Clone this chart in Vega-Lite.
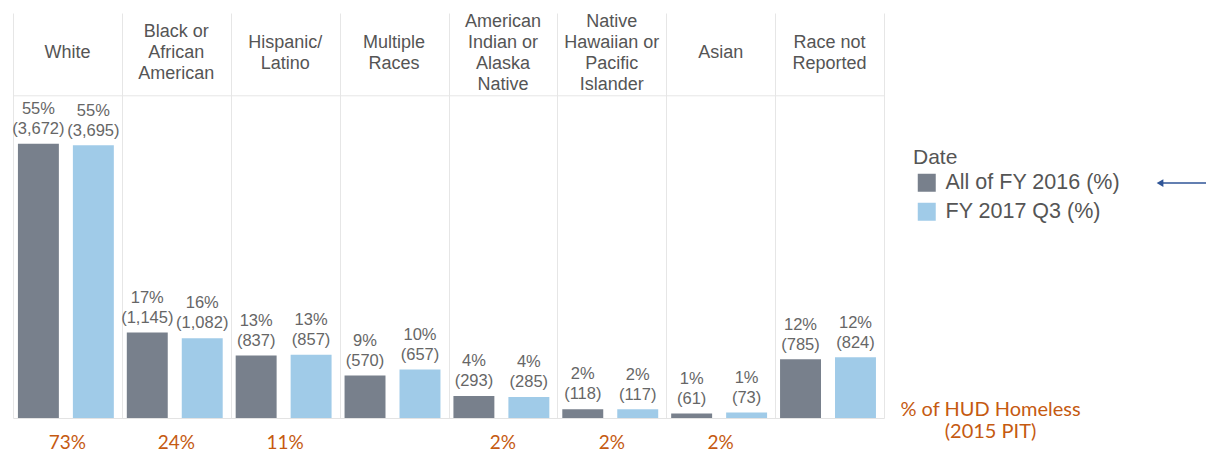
{
  "$schema": "https://vega.github.io/schema/vega-lite/v6.json",
  "width": 871,
  "height": 405,
  "padding": {"left": 12, "top": 12, "right": 0, "bottom": 0},
  "background": "white",
  "config": {
    "view": {"stroke": null},
    "font": "Liberation Sans"
  },
  "datasets": {
    "bars": [
      {"race": "White", "date": "All of FY 2016 (%)", "pct": 55.00, "count": 3672},
      {"race": "White", "date": "FY 2017 Q3 (%)", "pct": 54.66, "count": 3695},
      {"race": "Black or African American", "date": "All of FY 2016 (%)", "pct": 17.15, "count": 1145},
      {"race": "Black or African American", "date": "FY 2017 Q3 (%)", "pct": 16.01, "count": 1082},
      {"race": "Hispanic/ Latino", "date": "All of FY 2016 (%)", "pct": 12.54, "count": 837},
      {"race": "Hispanic/ Latino", "date": "FY 2017 Q3 (%)", "pct": 12.68, "count": 857},
      {"race": "Multiple Races", "date": "All of FY 2016 (%)", "pct": 8.54, "count": 570},
      {"race": "Multiple Races", "date": "FY 2017 Q3 (%)", "pct": 9.72, "count": 657},
      {"race": "American Indian or Alaska Native", "date": "All of FY 2016 (%)", "pct": 4.39, "count": 293},
      {"race": "American Indian or Alaska Native", "date": "FY 2017 Q3 (%)", "pct": 4.22, "count": 285},
      {"race": "Native Hawaiian or Pacific Islander", "date": "All of FY 2016 (%)", "pct": 1.77, "count": 118},
      {"race": "Native Hawaiian or Pacific Islander", "date": "FY 2017 Q3 (%)", "pct": 1.73, "count": 117},
      {"race": "Asian", "date": "All of FY 2016 (%)", "pct": 0.91, "count": 61},
      {"race": "Asian", "date": "FY 2017 Q3 (%)", "pct": 1.08, "count": 73},
      {"race": "Race not Reported", "date": "All of FY 2016 (%)", "pct": 11.76, "count": 785},
      {"race": "Race not Reported", "date": "FY 2017 Q3 (%)", "pct": 12.19, "count": 824}
    ],
    "headers": [
      {"race": "White", "label": "White"},
      {"race": "Black or African American", "label": "Black or\nAfrican\nAmerican"},
      {"race": "Hispanic/ Latino", "label": "Hispanic/\nLatino"},
      {"race": "Multiple Races", "label": "Multiple\nRaces"},
      {"race": "American Indian or Alaska Native", "label": "American\nIndian or\nAlaska\nNative"},
      {"race": "Native Hawaiian or Pacific Islander", "label": "Native\nHawaiian or\nPacific\nIslander"},
      {"race": "Asian", "label": "Asian"},
      {"race": "Race not Reported", "label": "Race not\nReported"}
    ],
    "hud": [
      {"race": "White", "hud": "73%"},
      {"race": "Black or African American", "hud": "24%"},
      {"race": "Hispanic/ Latino", "hud": "11%"},
      {"race": "American Indian or Alaska Native", "hud": "2%"},
      {"race": "Native Hawaiian or Pacific Islander", "hud": "2%"},
      {"race": "Asian", "hud": "2%"}
    ],
    "arrow": [
      {"x": 1.3169, "x2": 1.3697, "y": 47.1}
    ],
    "headerline": [
      {"y": 64.6}
    ]
  },
  "layer": [
    {
      "layer": [
        {
          "data": {"name": "headers"},
          "transform": [
            {"calculate": "length(split(datum.label, '\\n'))", "as": "nl"},
            {"calculate": "73.1 + (datum.nl - 1) * 2.108", "as": "hy"}
          ],
          "mark": {"type": "text", "baseline": "middle", "align": "center", "lineBreak": "\n", "fontSize": 18, "lineHeight": 21, "color": "#555555"},
          "encoding": {
            "x": {"field": "race", "type": "nominal", "scale": {"domain": ["White", "Black or African American", "Hispanic/ Latino", "Multiple Races", "American Indian or Alaska Native", "Native Hawaiian or Pacific Islander", "Asian", "Race not Reported"], "paddingInner": 0, "paddingOuter": 0},
              "axis": {"orient": "bottom", "title": ["% of HUD Homeless", "(2015 PIT)"], "titleX": 977, "titleY": -19, "titleAlign": "center", "titleBaseline": "top", "titleAngle": 0, "titleFont": "Lato", "titleFontSize": 20, "titleFontWeight": "normal", "titleColor": "#C55A11", "titleLineHeight": 22, "labels": false, "ticks": false, "domain": true, "domainColor": "#e3e3e3", "grid": true, "gridColor": "#e6e6e6", "tickBand": "extent"}},
            "y": {"field": "hy", "type": "quantitative", "scale": {"domain": [0, 81.2]}, "axis": null},
            "text": {"field": "label"}
          }
        },
        {
          "data": {"name": "bars"},
          "mark": {"type": "bar"},
          "encoding": {
            "x": {"field": "race", "type": "nominal", "scale": {"domain": ["White", "Black or African American", "Hispanic/ Latino", "Multiple Races", "American Indian or Alaska Native", "Native Hawaiian or Pacific Islander", "Asian", "Race not Reported"], "paddingInner": 0, "paddingOuter": 0},
              "axis": {"orient": "bottom", "title": ["% of HUD Homeless", "(2015 PIT)"], "titleX": 977, "titleY": -19, "titleAlign": "center", "titleBaseline": "top", "titleAngle": 0, "titleFont": "Lato", "titleFontSize": 20, "titleFontWeight": "normal", "titleColor": "#C55A11", "titleLineHeight": 22, "labels": false, "ticks": false, "domain": true, "domainColor": "#e3e3e3", "grid": true, "gridColor": "#e6e6e6", "tickBand": "extent"}},
            "xOffset": {"field": "date", "type": "nominal", "scale": {"paddingInner": 0.255, "paddingOuter": 0.118, "align": 0.38}},
            "y": {"field": "pct", "type": "quantitative", "scale": {"domain": [0, 81.2]}, "axis": null},
            "color": {"field": "date", "type": "nominal",
              "scale": {"domain": ["All of FY 2016 (%)", "FY 2017 Q3 (%)"], "range": ["#78808C", "#A0CBE8"]},
              "legend": {"orient": "none", "legendX": 900, "legendY": 134, "title": "Date", "titleFont": "Liberation Sans", "titleFontSize": 21, "titleFontWeight": "normal", "titleColor": "#555555", "titlePadding": 4, "labelFont": "Liberation Sans", "labelFontSize": 21.5, "labelColor": "#555555", "labelOffset": 8, "symbolType": "square", "symbolSize": 324, "symbolStrokeWidth": 0, "symbolOpacity": 1, "symbolOffset": 3, "rowPadding": 6, "labelLimit": 300}}
          }
        },
        {
          "data": {"name": "bars"},
          "transform": [
            {"calculate": "format(datum.pct, '.0f') + '%\\n(' + format(datum.count, ',') + ')'", "as": "lbl"}
          ],
          "mark": {"type": "text", "baseline": "alphabetic", "align": "center", "dy": -29.7, "lineBreak": "\n", "fontSize": 16.5, "lineHeight": 20, "color": "#666666"},
          "encoding": {
            "x": {"field": "race", "type": "nominal", "scale": {"domain": ["White", "Black or African American", "Hispanic/ Latino", "Multiple Races", "American Indian or Alaska Native", "Native Hawaiian or Pacific Islander", "Asian", "Race not Reported"], "paddingInner": 0, "paddingOuter": 0},
              "axis": {"orient": "bottom", "title": ["% of HUD Homeless", "(2015 PIT)"], "titleX": 977, "titleY": -19, "titleAlign": "center", "titleBaseline": "top", "titleAngle": 0, "titleFont": "Lato", "titleFontSize": 20, "titleFontWeight": "normal", "titleColor": "#C55A11", "titleLineHeight": 22, "labels": false, "ticks": false, "domain": true, "domainColor": "#e3e3e3", "grid": true, "gridColor": "#e6e6e6", "tickBand": "extent"}},
            "xOffset": {"field": "date", "type": "nominal", "scale": {"paddingInner": 0.255, "paddingOuter": 0.118, "align": 0.38}},
            "y": {"field": "pct", "type": "quantitative", "scale": {"domain": [0, 81.2]}, "axis": null},
            "text": {"field": "lbl"}
          }
        },
        {
          "data": {"name": "hud"},
          "mark": {"type": "text", "baseline": "middle", "align": "center", "font": "Lato", "fontSize": 19, "color": "#C55A11"},
          "encoding": {
            "x": {"field": "race", "type": "nominal", "scale": {"domain": ["White", "Black or African American", "Hispanic/ Latino", "Multiple Races", "American Indian or Alaska Native", "Native Hawaiian or Pacific Islander", "Asian", "Race not Reported"], "paddingInner": 0, "paddingOuter": 0},
              "axis": {"orient": "bottom", "title": ["% of HUD Homeless", "(2015 PIT)"], "titleX": 977, "titleY": -19, "titleAlign": "center", "titleBaseline": "top", "titleAngle": 0, "titleFont": "Lato", "titleFontSize": 20, "titleFontWeight": "normal", "titleColor": "#C55A11", "titleLineHeight": 22, "labels": false, "ticks": false, "domain": true, "domainColor": "#e3e3e3", "grid": true, "gridColor": "#e6e6e6", "tickBand": "extent"}},
            "y": {"datum": -5.0, "type": "quantitative", "scale": {"domain": [0, 81.2]}, "axis": null},
            "text": {"field": "hud"}
          }
        }
      ]
    },
    {
      "layer": [
        {
          "data": {"name": "headerline"},
          "mark": {"type": "rule", "color": "#e6e6e6", "strokeWidth": 1},
          "encoding": {
            "y": {"field": "y", "type": "quantitative", "scale": {"domain": [0, 81.2]}, "axis": null}
          }
        },
        {
          "data": {"name": "arrow"},
          "mark": {"type": "rule", "color": "#2F5597", "strokeWidth": 1.5},
          "encoding": {
            "x": {"field": "x", "type": "quantitative", "scale": {"domain": [0, 1]}, "axis": null},
            "x2": {"field": "x2"},
            "y": {"field": "y", "type": "quantitative", "scale": {"domain": [0, 81.2]}, "axis": null}
          }
        },
        {
          "data": {"name": "arrow"},
          "mark": {"type": "point", "shape": "triangle-left", "filled": true, "size": 60, "color": "#2F5597", "opacity": 1},
          "encoding": {
            "x": {"field": "x", "type": "quantitative", "scale": {"domain": [0, 1]}, "axis": null},
            "y": {"field": "y", "type": "quantitative", "scale": {"domain": [0, 81.2]}, "axis": null}
          }
        }
      ]
    }
  ],
  "resolve": {"scale": {"x": "independent"}}
}
